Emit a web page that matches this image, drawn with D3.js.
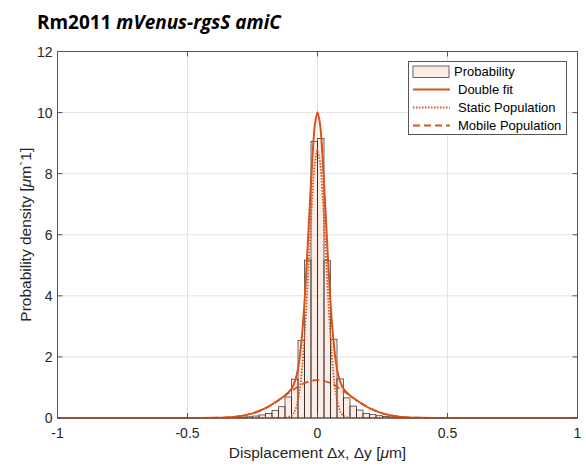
<!DOCTYPE html>
<html>
<head>
<meta charset="utf-8">
<script src="https://cdn.jsdelivr.net/npm/d3@7"></script>
<style>
  body { margin: 0; background: #fff; }
  svg { display: block; }
</style>
</head>
<body>
<div id="chart"></div>
<script>
// histogram bins (left edges, width 0.025) and heights
var binStart = [-0.375, -0.35, -0.325, -0.3, -0.275, -0.25, -0.225, -0.2, -0.175, -0.15,
                -0.125, -0.1, -0.075, -0.05, -0.025, 0, 0.025, 0.05, 0.075, 0.1,
                0.125, 0.15, 0.175, 0.2, 0.225, 0.25, 0.275, 0.3, 0.325, 0.35];
var binHeight = [0.01, 0.015, 0.02, 0.03, 0.04, 0.065, 0.10, 0.15, 0.25, 0.37,
                 0.69, 1.27, 2.54, 5.17, 9.05, 9.15, 5.16, 2.58, 1.28, 0.66,
                 0.39, 0.26, 0.15, 0.11, 0.075, 0.05, 0.035, 0.02, 0.015, 0.01];
var binWidth = 0.025;

// fitted curves
var fitX = [-1, -0.5, -0.45, -0.4, -0.35, -0.3, -0.25, -0.2, -0.175, -0.15,
            -0.125, -0.1, -0.09, -0.08, -0.07, -0.06, -0.05, -0.04, -0.03, -0.02, -0.01,
            0,
            0.01, 0.02, 0.03, 0.04, 0.05, 0.06, 0.07, 0.08, 0.09, 0.1, 0.125,
            0.15, 0.175, 0.2, 0.25, 0.3, 0.35, 0.4, 0.45, 0.5, 1];
var doubleFit = [0, 0, 0.001, 0.006, 0.02, 0.06, 0.152, 0.324, 0.443, 0.582,
                 0.739, 0.956, 1.125, 1.41, 1.89, 2.66, 3.79, 5.25, 6.90, 8.46, 9.60,
                 10.01,
                 9.60, 8.46, 6.90, 5.25, 3.79, 2.66, 1.89, 1.41, 1.125, 0.956, 0.739,
                 0.582, 0.443, 0.324, 0.152, 0.06, 0.02, 0.006, 0.001, 0, 0];
var staticPop = [0, 0, 0, 0, 0, 0, 0, 0, 0, 0,
                 0.005, 0.07, 0.18, 0.41, 0.84, 1.56, 2.65, 4.07, 5.70, 7.24, 8.36,
                 8.77,
                 8.36, 7.24, 5.70, 4.07, 2.65, 1.56, 0.84, 0.41, 0.18, 0.07, 0.005,
                 0, 0, 0, 0, 0, 0, 0, 0, 0, 0];
var mobilePop = [0, 0, 0.001, 0.006, 0.02, 0.06, 0.152, 0.324, 0.443, 0.582,
                 0.734, 0.886, 0.945, 1.0, 1.052, 1.099, 1.14, 1.175, 1.203, 1.223, 1.236,
                 1.24,
                 1.236, 1.223, 1.203, 1.175, 1.14, 1.099, 1.052, 1.0, 0.945, 0.886, 0.734,
                 0.582, 0.443, 0.324, 0.152, 0.06, 0.02, 0.006, 0.001, 0, 0];

var xTicks = [-1, -0.5, 0, 0.5, 1];
var yTicks = [0, 2, 4, 6, 8, 10, 12];
var legendItems = ['Probability', 'Double fit', 'Static Population', 'Mobile Population'];

var width = 586, height = 468;
var plotLeft = 57.5, plotRight = 577.5, plotTop = 51.5, plotBottom = 418;
var orange = '#D95319';
var axisFont = 'Liberation Sans, Arial, sans-serif';

var svg = d3.select('#chart').append('svg')
            .attr('width', width)
            .attr('height', height);

var x = d3.scaleLinear().domain([-1, 1]).range([plotLeft, plotRight]);
var y = d3.scaleLinear().domain([0, 12]).range([plotBottom, plotTop]);

// grid
svg.append('g').selectAll('line')
   .data(xTicks.slice(1, -1))
   .enter().append('line')
   .attr('x1', d => x(d)).attr('x2', d => x(d))
   .attr('y1', plotTop).attr('y2', plotBottom)
   .attr('stroke', '#e3e3e3').attr('stroke-width', 1);
svg.append('g').selectAll('line')
   .data(yTicks.slice(1, -1))
   .enter().append('line')
   .attr('x1', plotLeft).attr('x2', plotRight)
   .attr('y1', d => y(d)).attr('y2', d => y(d))
   .attr('stroke', '#e3e3e3').attr('stroke-width', 1);

// histogram
svg.append('g').selectAll('rect')
   .data(binStart)
   .enter().append('rect')
   .attr('x', d => x(d))
   .attr('y', (d, i) => y(binHeight[i]))
   .attr('width', d => x(d + binWidth) - x(d))
   .attr('height', (d, i) => y(0) - y(binHeight[i]))
   .attr('fill', 'rgba(240, 170, 140, 0.22)')
   .attr('stroke', 'rgba(20, 20, 20, 0.8)')
   .attr('stroke-width', 0.8);

// curves
var line = d3.line()
             .x(d => x(d[0]))
             .y(d => y(d[1]))
             .curve(d3.curveCatmullRom);

svg.append('path')
   .attr('d', line(fitX.map((v, i) => [v, doubleFit[i]])))
   .attr('fill', 'none').attr('stroke', orange).attr('stroke-width', 2);
svg.append('path')
   .attr('d', line(fitX.map((v, i) => [v, staticPop[i]])))
   .attr('fill', 'none').attr('stroke', orange).attr('stroke-width', 1.8)
   .attr('stroke-dasharray', '1.5,1.5');
svg.append('path')
   .attr('d', line(fitX.map((v, i) => [v, mobilePop[i]])))
   .attr('fill', 'none').attr('stroke', orange).attr('stroke-width', 1.8)
   .attr('stroke-dasharray', '7,4');

// axes box and ticks
svg.append('rect')
   .attr('x', plotLeft).attr('y', plotTop)
   .attr('width', plotRight - plotLeft).attr('height', plotBottom - plotTop)
   .attr('fill', 'none').attr('stroke', '#555').attr('stroke-width', 1);

var ticks = svg.append('g').attr('stroke', '#555').attr('stroke-width', 1);
xTicks.forEach(function(t) {
    ticks.append('line').attr('x1', x(t)).attr('x2', x(t)).attr('y1', plotBottom).attr('y2', plotBottom - 5);
    ticks.append('line').attr('x1', x(t)).attr('x2', x(t)).attr('y1', plotTop).attr('y2', plotTop + 5);
});
yTicks.forEach(function(t) {
    ticks.append('line').attr('x1', plotLeft).attr('x2', plotLeft + 5).attr('y1', y(t)).attr('y2', y(t));
    ticks.append('line').attr('x1', plotRight).attr('x2', plotRight - 5).attr('y1', y(t)).attr('y2', y(t));
});

svg.append('g').selectAll('text')
   .data(xTicks)
   .enter().append('text')
   .attr('x', d => x(d))
   .attr('y', plotBottom + 20)
   .attr('text-anchor', 'middle')
   .attr('font-family', axisFont).attr('font-size', 14).attr('fill', '#262626')
   .text(d => d);

svg.append('g').selectAll('text')
   .data(yTicks)
   .enter().append('text')
   .attr('x', plotLeft - 5)
   .attr('y', d => y(d) + 5)
   .attr('text-anchor', 'end')
   .attr('font-family', axisFont).attr('font-size', 14).attr('fill', '#262626')
   .text(d => d);

// axis labels
var xl = svg.append('text')
   .attr('x', (plotLeft + plotRight) / 2).attr('y', 458)
   .attr('text-anchor', 'middle')
   .attr('font-family', axisFont).attr('font-size', 15.5).attr('fill', '#262626');
xl.append('tspan').text('Displacement Δx, Δy [');
xl.append('tspan').attr('font-style', 'italic').text('μ');
xl.append('tspan').text('m]');

var yl = svg.append('text')
   .attr('transform', 'translate(31,' + ((plotTop + plotBottom) / 2) + ') rotate(-90)')
   .attr('text-anchor', 'middle')
   .attr('font-family', axisFont).attr('font-size', 15.5).attr('fill', '#262626');
yl.append('tspan').text('Probability density [');
yl.append('tspan').attr('font-style', 'italic').text('μ');
yl.append('tspan').text('m`1]');

// title
var title = svg.append('text')
   .attr('x', 37).attr('y', 29)
   .attr('font-family', 'Open Sans, sans-serif').attr('font-weight', 'bold')
   .attr('font-size', 21).attr('fill', '#000');
title.append('tspan').text('Rm2011 ');
title.append('tspan').attr('font-style', 'italic').text('mVenus-rgsS amiC');
var tw = title.node().getComputedTextLength();
title.attr('font-size', 21 * 244 / tw);

// legend
var lg = svg.append('g');
lg.append('rect')
  .attr('x', 408.5).attr('y', 61.5).attr('width', 158).attr('height', 73)
  .attr('fill', '#fff').attr('stroke', '#555').attr('stroke-width', 1);

var rowY = [71.5, 89.5, 107.5, 125.5];
lg.append('rect')
  .attr('x', 413).attr('y', rowY[0] - 5.5).attr('width', 36).attr('height', 11.5)
  .attr('fill', 'rgba(240, 170, 140, 0.22)')
  .attr('stroke', 'rgba(20, 20, 20, 0.8)').attr('stroke-width', 0.8);
lg.append('line').attr('x1', 413).attr('x2', 450).attr('y1', rowY[1]).attr('y2', rowY[1])
  .attr('stroke', orange).attr('stroke-width', 2);
lg.append('line').attr('x1', 413).attr('x2', 450).attr('y1', rowY[2]).attr('y2', rowY[2])
  .attr('stroke', orange).attr('stroke-width', 1.8).attr('stroke-dasharray', '1.5,1.5');
lg.append('line').attr('x1', 413).attr('x2', 450).attr('y1', rowY[3]).attr('y2', rowY[3])
  .attr('stroke', orange).attr('stroke-width', 1.8).attr('stroke-dasharray', '7,4');

lg.selectAll('text')
  .data(legendItems)
  .enter().append('text')
  .attr('x', (d, i) => i === 0 ? 454 : 458)
  .attr('y', (d, i) => rowY[i] + 4.5)
  .attr('font-family', axisFont).attr('font-size', 13).attr('fill', '#000')
  .text(d => d);
</script>
</body>
</html>
